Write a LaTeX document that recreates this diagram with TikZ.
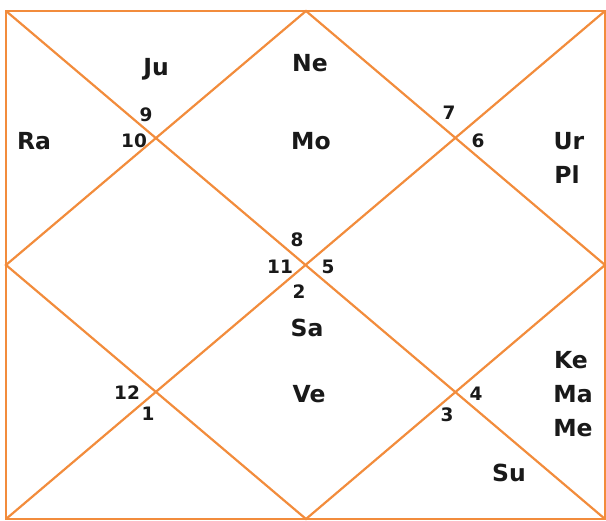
\documentclass[tikz,border=0pt]{standalone}
\usepackage{fontspec}
\setmainfont{DejaVu Sans}
\definecolor{chartline}{RGB}{242,140,60}
\definecolor{txt}{RGB}{25,25,25}
\tikzset{
  planet/.style={font=\fontsize{23.5}{26}\selectfont\bfseries, text=txt, inner sep=0pt},
  housenum/.style={font=\fontsize{18.5}{21}\selectfont\bfseries, text=txt, inner sep=0pt},
  chart/.style={draw=chartline, line width=2.2pt}
}
\begin{document}
\begin{tikzpicture}[x=1pt,y=-1pt]
\useasboundingbox (0,0) rectangle (606,521);
\coordinate (TL) at (6,11);
\coordinate (TR) at (605,11);
\coordinate (BL) at (6,519);
\coordinate (BR) at (605,519);
\coordinate (T) at (306,11);
\coordinate (B) at (306,519);
\coordinate (L) at (6,265);
\coordinate (R) at (605,265);
\draw[chart] (TL) rectangle (BR);
\draw[chart] (TL) -- (BR);
\draw[chart] (TR) -- (BL);
\draw[chart] (T) -- (R) -- (B) -- (L) -- cycle;
% planets
\node[planet] (ju) at (156,69) {Ju};
\node[planet] (ne) at (310,63) {Ne};
\node[planet] (ra) at (34,141) {Ra};
\node[planet] (mo) at (311,141) {Mo};
\node[planet] (ur) at (569,141) {Ur};
\node[planet] (pl) at (567,175) {Pl};
\node[planet] (sa) at (307,328) {Sa};
\node[planet] (ke) at (571,360) {Ke};
\node[planet] (ma) at (573,394) {Ma};
\node[planet] (me) at (573,428) {Me};
\node[planet] (ve) at (309,394) {Ve};
\node[planet] (su) at (509,473) {Su};
% house numbers
\node[housenum] (h9) at (146,115) {9};
\node[housenum] (h10) at (134,141) {10};
\node[housenum] (h7) at (449,113) {7};
\node[housenum] (h6) at (478,141) {6};
\node[housenum] (h8) at (297,240) {8};
\node[housenum] (h11) at (280,267) {11};
\node[housenum] (h5) at (328,267) {5};
\node[housenum] (h2) at (299,292) {2};
\node[housenum] (h12) at (127,393) {12};
\node[housenum] (h1) at (148,414) {1};
\node[housenum] (h4) at (476,394) {4};
\node[housenum] (h3) at (447,415) {3};
\end{tikzpicture}
\end{document}
